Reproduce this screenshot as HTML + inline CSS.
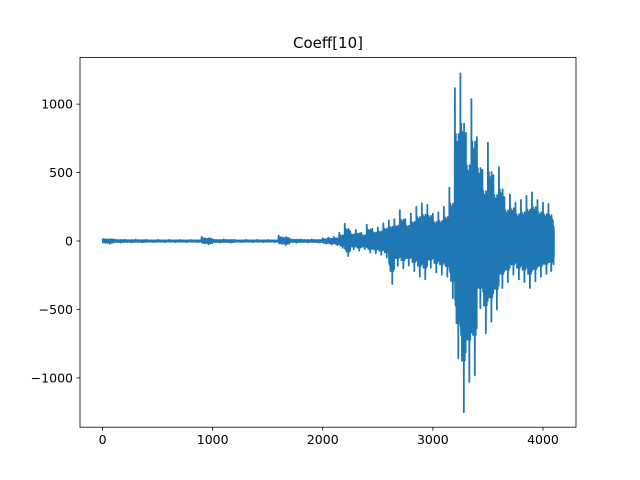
<!DOCTYPE html>
<html><head><meta charset="utf-8"><style>
body{margin:0;background:#fff;}
svg{display:block;font-family:"DejaVu Sans","Liberation Sans",sans-serif;}
</style></head><body>
<svg id="chart" width="640" height="480">
<rect width="640" height="480" fill="#fff"/>
<text x="328" y="48" text-anchor="middle" font-size="15">Coeff[10]</text>
<g id="plot"></g>
<rect x="80" y="57.6" width="496" height="369.6" fill="none" stroke="#000" stroke-width="0.8"/>
<g id="xt"></g>
<g id="yt"></g>
</svg>
<script>
const xs=[0,100,200,300,400,500,600,700,800,900,1000,1100,1200,1300,1400,1500,1600,1700,1800,1900,
2000,2050,2100,2150,2200,2250,2300,2350,2400,2450,2500,2550,2600,2650,2700,2750,2800,2850,2900,2950,3000,3050,3100,3150,3200,3250,3300,3350,3400,3450,3500,3550,3600,3650,3700,3750,3800,3850,3900,3950,4000,4050,4090];
const maxs=[20,12,10,10,8,8,8,8,8,30,12,12,8,8,8,8,40,15,12,12,
20,25,30,60,127,70,80,60,120,90,100,130,150,160,225,160,200,250,275,265,200,210,250,390,1117,1225,790,1037,760,520,720,480,540,320,340,280,300,330,355,300,280,270,150];
const mins=[-20,-12,-10,-10,-8,-8,-8,-8,-8,-25,-12,-12,-8,-8,-8,-8,-30,-12,-10,-12,
-20,-25,-30,-50,-110,-60,-70,-60,-85,-90,-100,-120,-314,-180,-200,-180,-220,-260,-280,-195,-230,-245,-260,-417,-858,-1250,-1030,-980,-490,-674,-590,-500,-343,-300,-245,-280,-300,-343,-294,-260,-240,-220,-170];
const xTicks=[0,1000,2000,3000,4000];
const yTicks=[-1000,-500,0,500,1000];
const yTickLabels=["\u22121000","\u2212500","0","500","1000"];
const X0=-205,X1=4300,Y0=-1360,Y1=1340;
const L=80,R=576,T=57.6,B=427.2;
const sx=v=>L+(v-X0)/(X1-X0)*(R-L);
const sy=v=>B-(v-Y0)/(Y1-Y0)*(B-T);
const NS="http://www.w3.org/2000/svg";
const plot=document.getElementById('plot');
const shape=[1,0.5,0.7,0.4,0.65,0.5,0.55,0.45,0.7,0.4,0.6,0.5];
let pts=[];
for(let i=0;i<xs.length;i++){
  const nx=i<xs.length-1?xs[i+1]:xs[i]+10;
  const n=shape.length*2;
  const step=(nx-xs[i])/n;
  for(let k=0;k<shape.length;k++){
    pts.push(sx(xs[i]+2*k*step)+','+sy(maxs[i]*shape[k]));
    pts.push(sx(xs[i]+(2*k+1)*step)+','+sy(mins[i]*shape[(k+5)%shape.length]));
  }
}
const pl=document.createElementNS(NS,'polyline');
pl.setAttribute('points',pts.join(' '));
pl.setAttribute('fill','none');pl.setAttribute('stroke','#1f77b4');pl.setAttribute('stroke-width','1.8');pl.setAttribute('stroke-linejoin','round');


plot.appendChild(pl);
const xt=document.getElementById('xt');
xTicks.forEach(v=>{
  const x=sx(v);
  const l=document.createElementNS(NS,'line');
  l.setAttribute('x1',x);l.setAttribute('x2',x);l.setAttribute('y1',B);l.setAttribute('y2',B+3.5);l.setAttribute('stroke','#000');l.setAttribute('stroke-width','0.8');
  
  
  xt.appendChild(l);
  const t=document.createElementNS(NS,'text');
  t.setAttribute('x',x);t.setAttribute('y',B+17);t.setAttribute('text-anchor','middle');t.setAttribute('font-size','12.5');
  t.textContent=String(v);
  
  
  xt.appendChild(t);
});
const yt=document.getElementById('yt');
yTicks.forEach((v,i)=>{
  const y=sy(v);
  const l=document.createElementNS(NS,'line');
  l.setAttribute('x1',L-3.5);l.setAttribute('x2',L);l.setAttribute('y1',y);l.setAttribute('y2',y);l.setAttribute('stroke','#000');l.setAttribute('stroke-width','0.8');
  
  
  yt.appendChild(l);
  const t=document.createElementNS(NS,'text');
  t.setAttribute('x',L-7);t.setAttribute('y',y+4.5);t.setAttribute('text-anchor','end');t.setAttribute('font-size','12.5');
  t.textContent=yTickLabels[i];
  
  
  yt.appendChild(t);
});
</script>
</body></html>
